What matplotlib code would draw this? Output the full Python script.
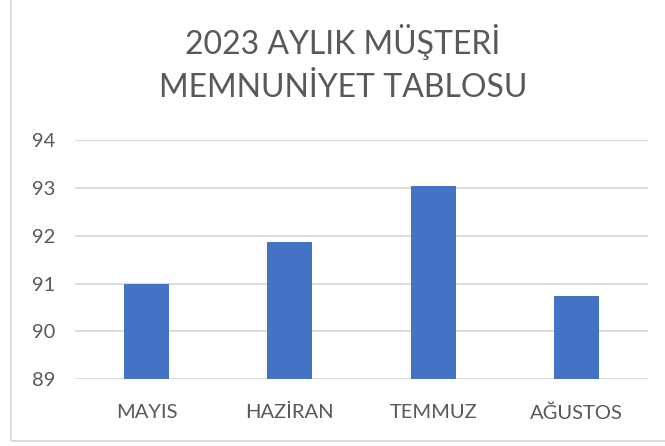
import matplotlib.pyplot as plt
from matplotlib.patches import Rectangle

# veriler
aylar = ["MAYIS", "HAZİRAN", "TEMMUZ", "AĞUSTOS"]
memnuniyet = [91.0, 91.86, 93.04, 90.74]
y_ticks = [89, 90, 91, 92, 93, 94]
baslik = ["2023 AYLIK MÜŞTERİ", "MEMNUNİYET TABLOSU"]

plt.rcParams['font.family'] = ['Lato', 'DejaVu Sans']
yazi_rengi = '#595959'
cizgi_rengi = '#d9d9d9'

fig = plt.figure(figsize=(6.65, 4.46), dpi=100)
ax = fig.add_axes([75 / 665, 66.7 / 446, 573 / 665, 239.3 / 446])

ax.bar(range(len(aylar)), memnuniyet, width=0.315, color='#4472c4', zorder=3)
ax.set_xlim(-0.5, len(aylar) - 0.5)
ax.set_ylim(89, 94)
ax.set_yticks(y_ticks)
ax.set_xticks(range(len(aylar)))
ax.set_xticklabels(aylar)

ax.grid(axis='y', color=cizgi_rengi, linewidth=1.3, zorder=0)
for s in ax.spines.values():
    s.set_visible(False)
ax.tick_params(axis='both', length=0, colors=yazi_rengi, labelsize=14.5)
ax.tick_params(axis='y', pad=14)
ax.tick_params(axis='x', pad=18)

# başlık
fig.text(343 / 665, 1 - 42 / 446, baslik[0], ha='center', va='center',
         fontsize=23, color=yazi_rengi)
fig.text(343 / 665, 1 - 88 / 446, baslik[1], ha='center', va='center',
         fontsize=23, color=yazi_rengi)

# grafik çerçevesi
fig.patches.append(Rectangle((11 / 665, 1 - 441 / 446), 1.2, 1.2,
                             transform=fig.transFigure, fill=False,
                             edgecolor=cizgi_rengi, linewidth=1.3))

fig.savefig('out.png', dpi=100)
